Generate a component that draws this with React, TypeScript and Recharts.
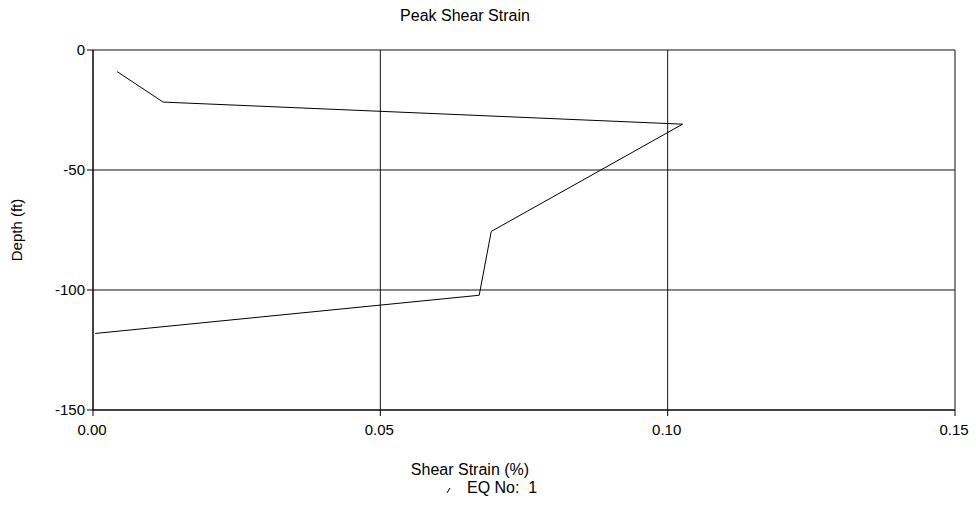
import React from 'react';
import { LineChart, Line, XAxis, YAxis, CartesianGrid, Legend } from 'recharts';

const strain = [0.0042, 0.0122, 0.1026, 0.0693, 0.0672, 0.0004];
const depth = [-9.0, -21.7, -30.9, -75.6, -102.2, -118.1];
const xTicks = [0, 0.05, 0.1, 0.15];
const yTicks = [0, -50, -100, -150];
const title = 'Peak Shear Strain';
const xLabel = 'Shear Strain (%)';
const yLabel = 'Depth (ft)';
const seriesName = 'EQ No:  1';

const data = strain.map((s, i) => ({ strain: s, depth: depth[i] }));

const FONT = '"Liberation Sans", Arial, sans-serif';

const LegendContent = () => (
  <div style={{ position: 'relative', height: 20, fontFamily: FONT, fontSize: 16, color: '#000' }}>
    <svg width={10} height={12} style={{ position: 'absolute', left: 444, top: 5 }}>
      <line x1={3} y1={10} x2={6} y2={5} stroke="#000" strokeWidth={1} />
    </svg>
    <span style={{ position: 'absolute', left: 467, top: 0, lineHeight: '20px', whiteSpace: 'pre' }}>{seriesName}</span>
  </div>
);

export default function App() {
  return (
    <div style={{ position: 'absolute', left: 0, top: 0, width: 976, height: 511, background: '#fff', fontFamily: FONT }}>
      <div style={{ position: 'absolute', left: 365, top: 6, width: 200, textAlign: 'center', fontSize: 16, lineHeight: '20px', color: '#000' }}>{title}</div>
      <LineChart width={976} height={511} data={data} margin={{ top: 50, right: 21, bottom: 0, left: 0 }}>
        <CartesianGrid stroke="#111" strokeWidth={1} />
        <XAxis
          dataKey="strain"
          type="number"
          domain={[0, 0.15]}
          ticks={xTicks}
          tickFormatter={(v: number) => v.toFixed(2)}
          height={101}
          tickSize={6}
          tickMargin={8}
          stroke="#000"
          tick={{ fill: '#000', fontSize: 15, fontFamily: FONT, dx: -1 }}
          label={{ value: xLabel, position: 'insideTop', offset: 54, dx: -54, fill: '#000', fontSize: 16, fontFamily: FONT }}
        />
        <YAxis
          dataKey="depth"
          type="number"
          domain={[-150, 0]}
          ticks={yTicks}
          width={93}
          tickSize={6}
          tickMargin={2}
          stroke="#000"
          tick={{ fill: '#000', fontSize: 15, fontFamily: FONT }}
          label={{ value: yLabel, angle: -90, position: 'insideLeft', offset: 17, fill: '#000', fontSize: 15, fontFamily: FONT, style: { textAnchor: 'middle' } }}
        />
        <Legend
          layout="horizontal"
          verticalAlign="middle"
          align="center"
          content={<LegendContent />}
          wrapperStyle={{ top: 478, left: 0, width: 976 }}
        />
        <Line
          dataKey="depth"
          name={seriesName}
          stroke="#000"
          strokeWidth={1}
          dot={false}
          activeDot={false}
          isAnimationActive={false}
        />
      </LineChart>
    </div>
  );
}
